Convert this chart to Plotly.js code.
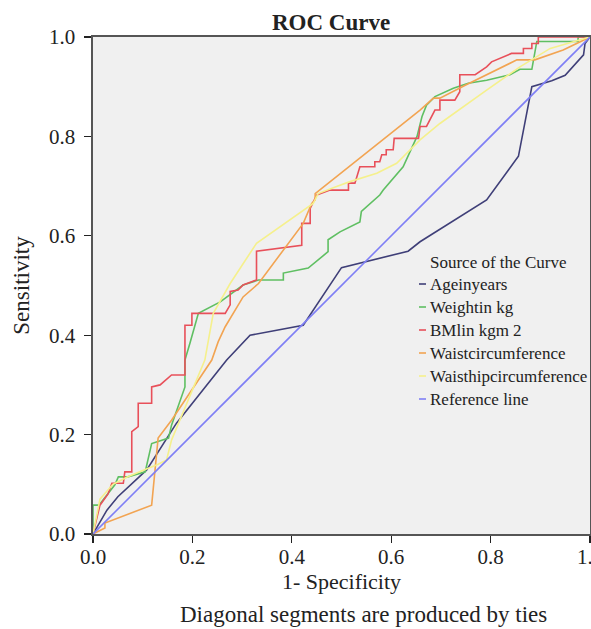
<!DOCTYPE html>
<html>
<head>
<meta charset="utf-8">
<script src="https://cdn.plot.ly/plotly-3.0.1.min.js"></script>
<style>
  html, body { margin: 0; padding: 0; background: #ffffff; }
  #chart { width: 591px; height: 629px; }
</style>
</head>
<body>
<div id="chart"></div>
<script>
// ---- Data (1 - Specificity, Sensitivity) ----
const seriesNames = ["Ageinyears", "Weightin kg", "BMlin kgm 2", "Waistcircumference", "Waisthipcircumference", "Reference line"];
const legendTitle = "Source of the Curve";

const ageX = [0, 0.028, 0.05, 0.108, 0.168, 0.225, 0.269, 0.316, 0.336, 0.423, 0.50, 0.634, 0.658, 0.792, 0.856, 0.883, 0.923, 0.95, 0.987, 0.99, 1];
const ageY = [0, 0.048, 0.075, 0.129, 0.223, 0.296, 0.350, 0.400, 0.404, 0.420, 0.536, 0.569, 0.588, 0.672, 0.760, 0.900, 0.912, 0.923, 0.964, 0.987, 1];

const weightX = [0, 0, 0.012, 0.044, 0.051, 0.07, 0.105, 0.118, 0.152, 0.158, 0.185, 0.185, 0.195, 0.212, 0.256, 0.302, 0.333, 0.383, 0.383, 0.433, 0.473, 0.473, 0.497, 0.537, 0.54, 0.577, 0.584, 0.624, 0.652, 0.662, 0.671, 0.688, 0.725, 0.755, 0.792, 0.839, 0.859, 0.883, 0.893, 0.976, 0.976, 1];
const weightY = [0, 0.058, 0.058, 0.099, 0.115, 0.115, 0.125, 0.182, 0.193, 0.219, 0.296, 0.350, 0.384, 0.444, 0.467, 0.501, 0.511, 0.511, 0.525, 0.535, 0.568, 0.592, 0.608, 0.628, 0.649, 0.682, 0.692, 0.739, 0.800, 0.840, 0.863, 0.880, 0.897, 0.907, 0.913, 0.924, 0.935, 0.935, 0.991, 0.991, 1.0, 1];

const bmiX = [0, 0.014, 0.03, 0.038, 0.061, 0.064, 0.078, 0.078, 0.091, 0.091,
              0.118, 0.118, 0.135, 0.158, 0.185, 0.185, 0.199, 0.199, 0.266, 0.276,
              0.276, 0.292, 0.302, 0.329, 0.329, 0.420, 0.420, 0.437, 0.437, 0.45,
              0.477, 0.514, 0.514, 0.527, 0.537, 0.567, 0.567, 0.577, 0.581, 0.59,
              0.59, 0.604, 0.606, 0.655, 0.658, 0.671, 0.688, 0.698, 0.698, 0.728,
              0.738, 0.738, 0.769, 0.792, 0.802, 0.842, 0.866, 0.866, 0.883, 0.883,
              0.896, 0.896, 1];
const bmiY = [0, 0.058, 0.08, 0.102, 0.102, 0.125, 0.125, 0.206, 0.216, 0.263,
              0.263, 0.296, 0.30, 0.32, 0.32, 0.42, 0.42, 0.444, 0.444, 0.461,
              0.488, 0.491, 0.501, 0.511, 0.569, 0.581, 0.625, 0.625, 0.655, 0.682,
              0.692, 0.692, 0.706, 0.706, 0.739, 0.739, 0.749, 0.749, 0.763, 0.763,
              0.773, 0.773, 0.796, 0.796, 0.82, 0.82, 0.853, 0.853, 0.873, 0.873,
              0.89, 0.924, 0.924, 0.94, 0.95, 0.967, 0.967, 0.977, 0.977, 0.987,
              0.987, 1.0, 1];

const waistX = [0, 0.024, 0.024, 0.118, 0.131, 0.158, 0.239, 0.252, 0.266, 0.302, 0.333, 0.423, 0.44, 0.447, 0.447, 0.658, 0.685, 0.698, 0.749, 0.792, 0.853, 0.889, 0.946, 1];
const waistY = [0, 0.012, 0.022, 0.058, 0.193, 0.229, 0.350, 0.387, 0.417, 0.477, 0.504, 0.625, 0.665, 0.672, 0.685, 0.853, 0.877, 0.877, 0.903, 0.924, 0.954, 0.954, 0.974, 1];

const whrX = [0, 0.014, 0.04, 0.07, 0.105, 0.13, 0.148, 0.158, 0.225, 0.242, 0.276, 0.329, 0.443, 0.453, 0.49, 0.517, 0.571, 0.611, 0.658, 0.698, 0.792, 0.859, 0.92, 1];
const whrY = [0, 0.07, 0.10, 0.115, 0.13, 0.14, 0.149, 0.189, 0.350, 0.444, 0.504, 0.585, 0.665, 0.685, 0.699, 0.709, 0.726, 0.746, 0.793, 0.826, 0.893, 0.940, 0.977, 1];

const refX = [0, 1];
const refY = [0, 1];

const tickVals = [0, 0.2, 0.4, 0.6, 0.8, 1.0];
const tickText = ["0.0", "0.2", "0.4", "0.6", "0.8", "1.0"];

// ---- Styling ----
const colors = ["#3f3f78", "#5fbf62", "#e8505a", "#f2a452", "#f5f08c", "#7f7ff5"];
const serif = "'Liberation Serif'";
const ink = "#222";

const xs = [ageX, weightX, bmiX, waistX, whrX, refX];
const ys = [ageY, weightY, bmiY, waistY, whrY, refY];

const traces = seriesNames.map((n, i) => ({
  type: "scatter",
  mode: "lines",
  name: n,
  x: xs[i],
  y: ys[i],
  line: { color: colors[i], width: 1.6 },
  showlegend: false,
  hoverinfo: "skip"
}));

// pixel helpers for the in-plot legend (plot area: x 93..590, y 37..534)
const L = 93, T = 37, W = 497, H = 497;
const px2x = p => (p - L) / W;
const py2y = p => (T + H - p) / H;

const legendTextX = 429;
const legendTitleY = 262;
const legendFirstY = 284;
const legendStep = 23;

const annotations = [
  {
    text: legendTitle,
    xref: "paper", yref: "paper",
    x: px2x(legendTextX - 1), y: py2y(legendTitleY),
    xanchor: "left", yanchor: "middle",
    showarrow: false,
    font: { family: serif, size: 17, color: ink }
  },
  {
    text: "Diagonal segments are produced by ties",
    xref: "paper", yref: "paper",
    x: px2x(363), y: py2y(614),
    xanchor: "center", yanchor: "middle",
    showarrow: false,
    font: { family: serif, size: 23, color: ink }
  }
];
const shapes = [];
seriesNames.forEach((n, i) => {
  const yy = py2y(legendFirstY + i * legendStep);
  annotations.push({
    text: n,
    xref: "paper", yref: "paper",
    x: px2x(legendTextX - 1), y: yy,
    xanchor: "left", yanchor: "middle",
    showarrow: false,
    font: { family: serif, size: 17, color: ink }
  });
  shapes.push({
    type: "line",
    xref: "paper", yref: "paper",
    x0: px2x(419), x1: px2x(426), y0: yy, y1: yy,
    line: { color: colors[i], width: 1.6 }
  });
});

const axisCommon = {
  range: [0, 1],
  tickvals: tickVals,
  ticktext: tickText,
  ticks: "outside",
  ticklen: 7,
  tickwidth: 1.3,
  tickcolor: ink,
  showgrid: false,
  zeroline: false,
  showline: true,
  linecolor: "#555",
  linewidth: 1.6,
  mirror: true,
  ticklabeloverflow: "allow",
  tickfont: { family: serif, size: 21, color: ink }
};

const layout = {
  width: 591,
  height: 629,
  margin: { l: 93, r: 1, t: 37, b: 95 },
  paper_bgcolor: "#ffffff",
  plot_bgcolor: "#f0f0f0",
  showlegend: false,
  title: {
    text: "<b>ROC Curve</b>",
    font: { family: serif, size: 23, color: ink },
    x: 331 / 591,
    xanchor: "center",
    xref: "container",
    y: 1 - 22 / 629,
    yanchor: "middle",
    yref: "container"
  },
  xaxis: Object.assign({}, axisCommon, {
    ticklabelstandoff: -4,
    title: { text: "1- Specificity", font: { family: serif, size: 22, color: ink }, standoff: 2 }
  }),
  yaxis: Object.assign({}, axisCommon, {
    ticklabelstandoff: 5,
    title: { text: "Sensitivity", font: { family: serif, size: 23, color: ink }, standoff: 13 }
  }),
  annotations: annotations,
  shapes: shapes
};

Plotly.newPlot("chart", traces, layout, { displayModeBar: false, staticPlot: true });
</script>
</body>
</html>
